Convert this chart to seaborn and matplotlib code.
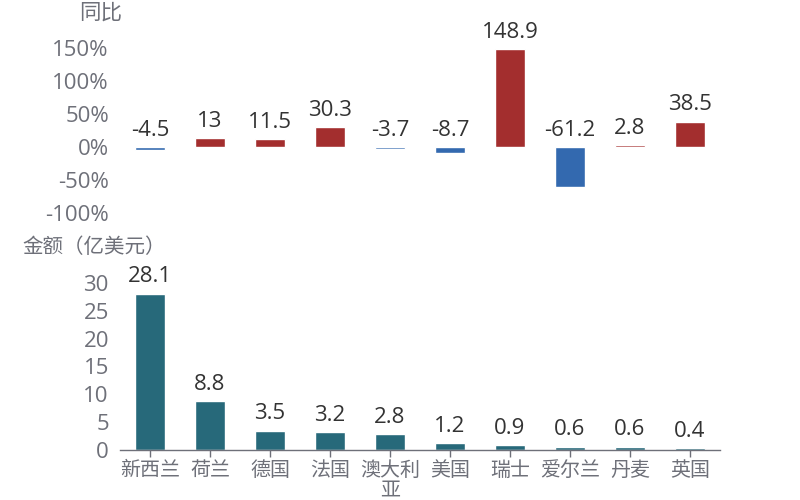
import matplotlib
matplotlib.use("Agg")
import matplotlib.pyplot as plt
import seaborn as sns
import pandas as pd
from matplotlib.ticker import FixedLocator, FuncFormatter

countries = ["新西兰", "荷兰", "德国", "法国", "澳大利\n亚", "美国", "瑞士", "爱尔兰", "丹麦", "英国"]
yoy = [-4.5, 13, 11.5, 30.3, -3.7, -8.7, 148.9, -61.2, 2.8, 38.5]
amount = [28.1, 8.8, 3.5, 3.2, 2.8, 1.2, 0.9, 0.6, 0.6, 0.4]
yoy_ticks = [-100, -50, 0, 50, 100, 150]
amt_ticks = [0, 5, 10, 15, 20, 25, 30]

RED = "#A32E2E"
BLUE = "#3369AF"
TEAL = "#27697A"
GRAY = "#6E7079"
DARK = "#333333"

sns.set_theme(style="white")
CJK = ["Noto Sans CJK SC", "DejaVu Sans"]
NUM = ["Open Sans", "Noto Sans CJK SC", "DejaVu Sans"]
plt.rcParams["font.family"] = CJK

df = pd.DataFrame({"country": countries, "yoy": yoy, "amount": amount})
df["sign"] = ["pos" if v >= 0 else "neg" for v in yoy]

fig = plt.figure(figsize=(8, 5), dpi=100)
ax1 = fig.add_axes([0.15, 0.574, 0.75, 0.33])
ax2 = fig.add_axes([0.15, 0.10, 0.75, 0.334])

NFS = 16     # numbers
CFS = 14.4   # category labels
TFS = 15.5   # axis names

# Top: YoY
sns.barplot(data=df, x="country", y="yoy", hue="sign", palette={"pos": RED, "neg": BLUE},
            dodge=False, width=0.5, legend=False, ax=ax1, saturation=1)
ax1.set_ylim(-100, 150)
ax1.set_xlim(-0.5, len(countries) - 0.5)
ax1.yaxis.set_major_locator(FixedLocator(yoy_ticks))
ax1.yaxis.set_major_formatter(FuncFormatter(lambda v, p: f"{int(v)}%"))
ax1.tick_params(axis="y", labelsize=NFS, labelcolor=GRAY, length=0, pad=8)
for lab in ax1.get_yticklabels():
    lab.set_family(NUM)
ax1.set_xticks([])
ax1.set_xlabel("")
ax1.set_ylabel("")
for s in ax1.spines.values():
    s.set_visible(False)
for i, v in enumerate(yoy):
    ax1.annotate(f"{v:g}", (i, max(v, 0)), xytext=(0, 12), textcoords="offset points",
                 ha="center", va="center", fontsize=NFS, color=DARK, family=NUM)
ax1.text(-0.033, 1.212, "同比", transform=ax1.transAxes, ha="center", va="center",
         fontsize=TFS, color=GRAY)

# Bottom: amount
sns.barplot(data=df, x="country", y="amount", color=TEAL, width=0.5, ax=ax2, saturation=1)
ax2.set_ylim(0, 30)
ax2.set_xlim(-0.5, len(countries) - 0.5)
ax2.yaxis.set_major_locator(FixedLocator(amt_ticks))
ax2.tick_params(axis="y", labelsize=NFS, labelcolor=GRAY, length=0, pad=8)
for lab in ax2.get_yticklabels():
    lab.set_family(NUM)
ax2.tick_params(axis="x", labelsize=CFS, labelcolor=GRAY, color=GRAY, length=5, width=1,
                bottom=True, pad=2)
for lab in ax2.get_xticklabels():
    lab.set_linespacing(0.95)
ax2.set_xlabel("")
ax2.set_ylabel("")
for s in ["top", "right", "left"]:
    ax2.spines[s].set_visible(False)
ax2.spines["bottom"].set_color(GRAY)
ax2.spines["bottom"].set_linewidth(1)
for i, v in enumerate(amount):
    ax2.annotate(f"{v:g}", (i, v), xytext=(0, 12), textcoords="offset points",
                 ha="center", va="center", fontsize=NFS, color=DARK, family=NUM)
ax2.text(-0.043, 1.216, "金额（亿美元）", transform=ax2.transAxes, ha="center", va="center",
         fontsize=14.8, color=GRAY)

fig.savefig("out.png", dpi=100)
